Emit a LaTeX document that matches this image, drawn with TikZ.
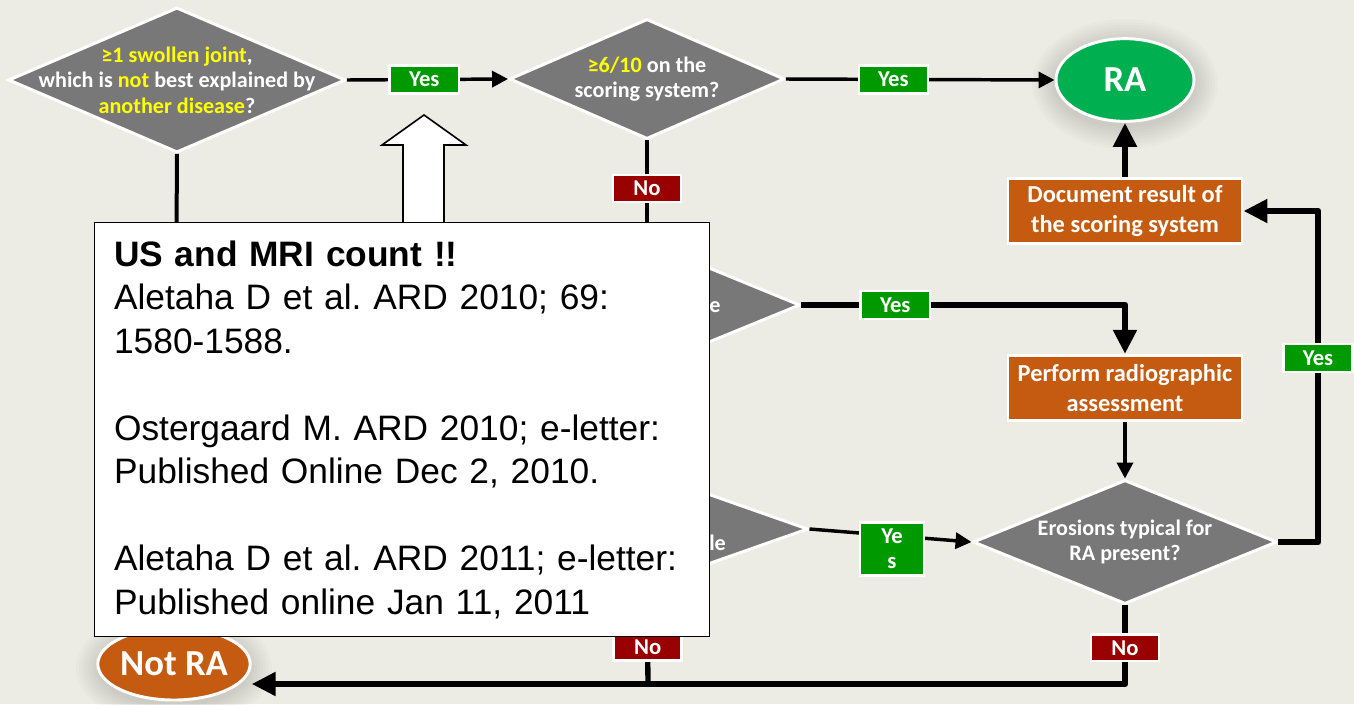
\documentclass[tikz,border=0pt]{standalone}
\usepackage{fontspec}
\setmainfont{Carlito}
\newfontfamily\reffont{Liberation Sans}
\usetikzlibrary{shapes.geometric,arrows.meta,positioning}
\frenchspacing

\definecolor{bgcol}{RGB}{237,236,228}
\definecolor{qgrey}{RGB}{120,120,120}
\definecolor{hilite}{RGB}{255,255,0}
\definecolor{yesgreen}{RGB}{0,153,0}
\definecolor{nored}{RGB}{153,0,0}
\definecolor{ragreen}{RGB}{0,176,80}
\definecolor{actorange}{RGB}{197,90,17}

\begin{document}
\begin{tikzpicture}[x=0.75pt,y=-0.75pt,
    question/.style={diamond,fill=qgrey,draw=white,line width=2.2pt,inner sep=0pt},
    qtext/.style={text=white,align=center,font=\bfseries\fontsize{16.6}{19}\selectfont},
    yesbox/.style={fill=yesgreen,draw=white,line width=1.8pt,text=white,inner sep=0pt,
        minimum width=52pt,minimum height=21pt,font=\bfseries\fontsize{17}{19}\selectfont},
    nobox/.style={yesbox,fill=nored,minimum width=51pt,minimum height=20pt},
    stepbox/.style={fill=actorange,draw=white,line width=2.2pt,text=white,align=center,
        minimum width=175.5pt,minimum height=49pt,inner sep=0pt,font=\bfseries\fontsize{18.3}{22.5}\selectfont},
    outcome/.style={ellipse,draw=white,line width=2.2pt,text=white,inner sep=0pt,
        font=\bfseries\fontsize{27.5}{30}\selectfont},
    flow/.style={line width=2.6pt,-{Triangle[length=12pt,width=12pt]}},
    heavy/.style={line width=5.2pt,line join=round,-{Triangle[length=18pt,width=17pt]}}]

    \fill[bgcol] (0,0) rectangle (1354,704);
    \useasboundingbox (0,0) rectangle (1354,704);

    % soft glow behind the end points
    \foreach \g in {1,...,8} {
      \fill[black,opacity=0.014] (1125,84) ellipse [x radius={(69+3*\g)*0.75pt}, y radius={(41+3*\g)*0.75pt}];
      \fill[black,opacity=0.014] (174,668) ellipse [x radius={(74+3*\g)*0.75pt}, y radius={(36+3*\g)*0.75pt}];
    }

    \node[question,minimum width=252.75pt,minimum height=108.75pt] (q1) at (177,80) {};
    \node[question,minimum width=206.25pt,minimum height=90pt] (q2) at (647,79) {};
    \node[question,minimum width=229.5pt,minimum height=94.5pt] (q3) at (647,305) {};
    \node[question,minimum width=241.5pt,minimum height=85.5pt] (q4) at (647,529) {};
    \node[question,minimum width=228pt,minimum height=93pt] (erosions) at (1125,542) {};

    \node[outcome,fill=ragreen,minimum width=103.5pt,minimum height=62pt] (ra) at (1125,80) {RA};
    \node[outcome,fill=actorange,minimum width=111pt,minimum height=54pt] (notra) at (174,664) {Not RA};
    \node[stepbox] (docbox) at (1125,211) {Document result of\\the scoring system};
    \node[stepbox] (perform) at (1125,388) {Perform radiographic\\assessment};

    \node[qtext] (q1text) at (q1.center) {{\color{hilite}≥1 swollen joint},\\which is {\color{hilite}not} best explained by\\{\color{hilite}another disease}?};
    \node[qtext] (q2text) at (q2.center) {{\color{hilite}≥6/10} on the\\scoring system?};
    \node[qtext] (etext) at (erosions.center) {Erosions typical for\\RA present?};
    \node[qtext,anchor=west,inner sep=0pt] (q3frag) at (709,307) {e};
    \node[qtext,anchor=west,inner sep=0pt] (q4frag) at (709,543) {le};

    \coordinate (bus) at (648,684);
    \coordinate (rail) at (1318,542);

    \draw[line width=3pt] (q1.south) -- (notra.north);
    \draw[line width=2.6pt] (q3.south) -- (q4.north);
    \draw[flow] (q1.east) -- node[yesbox,pos=0.48] (yes1) {Yes} (q2.west);
    \draw[flow] (q2.east) -- node[yesbox,pos=0.40] (yes2) {Yes} (ra.west);
    \draw[heavy] (docbox.north) -- (ra.south);
    \draw[line width=2.6pt] (q2.south) -- node[nobox,pos=0.48] (no2) {No} (q3.north);
    \draw[heavy] (q3.east) -- node[yesbox,pos=0.29] (yes3) {Yes} (perform.north |- q3.east) -- (perform.north);
    \draw[flow] (perform.south) -- (erosions.north);
    \draw[flow] (q4.east) -- (erosions.west);
    \node[yesbox,minimum width=48pt,minimum height=40pt,align=center] (yes4) at (892,549) {Ye\\s};
    \draw[line width=4pt] (q4.south) -- node[nobox,pos=0.62] (no4) {No} (bus);
    \draw[heavy] (erosions.south) -- node[nobox,pos=0.54] (no5) {No} (erosions.south |- bus) -- (notra.east |- bus);
    \draw[heavy] (erosions.east) -- (rail) -- node[yesbox,pos=0.556] (yes5) {Yes} (rail |- docbox.east) -- (docbox.east);

    % call-out with the references
    \draw[fill=white,line width=1.2pt] (403,222) -- (403,145) -- (382,145) -- (424,115) -- (466,145) -- (444,145) -- (444,222);
    \node[draw=black,line width=1.1pt,fill=white,anchor=north west,minimum height=310.5pt,
      text width=432pt,inner xsep=14.5pt,align=left,
      font=\reffont\fontsize{26.5}{32.6}\selectfont] (refnote) at (94,222)
      {\textbf{US and MRI count !!}\\
       Aletaha D et al. ARD 2010; 69:\\
       1580-1588.\\[32.6pt]
       Ostergaard M. ARD 2010; e-letter:\\
       Published Online Dec 2, 2010.\\[32.6pt]
       Aletaha D et al. ARD 2011; e-letter:\\
       Published online Jan 11, 2011};
\end{tikzpicture}
\end{document}
